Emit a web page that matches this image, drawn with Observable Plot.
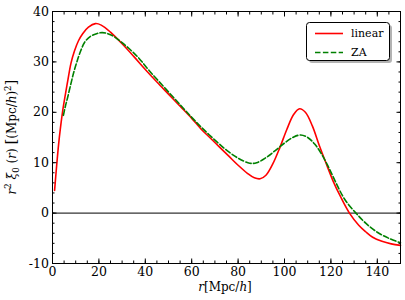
<!DOCTYPE html>
<html><head><meta charset="utf-8">
<script src="https://cdn.jsdelivr.net/npm/d3@7"></script>
<script src="https://cdn.jsdelivr.net/npm/@observablehq/plot@0.6"></script>
<style>body{margin:0;background:#fff}#chart{width:405px;height:300px}</style>
</head><body><div id="chart"></div>
<script>
// linear theory
const linearR = [0.9, 1.4, 1.9, 2.6, 3.4, 4.3, 5.5, 6.7, 8, 9.5, 11.2, 13, 15.5, 18.5, 21, 25, 30, 35, 40, 45, 50, 55, 60, 64, 68, 72, 76, 80, 84, 87, 89.5, 92, 95, 98, 101, 104, 106.5, 109, 112, 115, 118, 121, 124, 128, 132, 135, 138, 142, 146, 150];
const linearV = [4.5, 7.3, 10, 13.5, 16.8, 20, 23.4, 26.6, 29.8, 32.2, 34.2, 35.6, 36.9, 37.6, 37.3, 35.9, 33.6, 31.1, 28.5, 26.0, 23.6, 21.2, 18.8, 16.7, 14.9, 13.1, 11.3, 9.5, 7.9, 7.0, 6.8, 7.5, 9.8, 13.0, 16.6, 19.6, 20.7, 20.0, 17.3, 13.4, 9.8, 6.3, 3.4, 0, -2.4, -3.7, -4.8, -5.6, -6.1, -6.4];
// Zel'dovich approximation
const zaR = [4.7, 5.5, 6.5, 8, 9.2, 10.5, 12, 14, 16.5, 19, 21.5, 25, 30, 36.5, 42, 48.7, 55, 60, 64, 69.5, 75, 80, 85, 88, 92, 96, 100, 104, 107, 110, 113, 116, 119, 122, 126, 131, 135, 140, 145, 150];
const zaV = [19.4, 21.1, 22.9, 25.8, 28, 30, 32, 34, 35.1, 35.6, 35.8, 35.4, 33.8, 31.1, 28.1, 24.7, 21.5, 19, 17.1, 14.7, 12.5, 10.9, 9.9, 10.0, 11, 12.4, 13.9, 15.1, 15.5, 15.0, 13.7, 11.7, 9.1, 6.2, 2.7, -0.1, -2, -3.8, -5, -5.9];

const seriesNames = ["linear", "ZA"];
const seriesColors = ["#ff0000", "#008000"];
const seriesDash = [null, "5.5,2.4"];

const xTicks = [0, 20, 40, 60, 80, 100, 120, 140];
const xMinor = d3.range(0, 151, 5);
const yTicks = [-10, 0, 10, 20, 30, 40];
const yMinor = d3.range(-10, 41, 2);

const linear = linearR.map((r, i) => ({r, v: linearV[i]}));
const za = zaR.map((r, i) => ({r, v: zaV[i]}));

const blank = () => "";
const plot = Plot.plot({
  width: 405, height: 300,
  marginLeft: 52, marginRight: 5, marginTop: 11, marginBottom: 37,
  style: {fontFamily: "DejaVu Serif", fontSize: "12.5px", color: "#000", background: "#fff", overflow: "visible"},
  x: {domain: [0, 150]},
  y: {domain: [-10, 40]},
  marks: [
    Plot.ruleY([0], {stroke: "#000", strokeWidth: 1}),
    Plot.line(linear, {x: "r", y: "v", stroke: seriesColors[0], strokeWidth: 1.6, curve: "catmull-rom"}),
    Plot.line(za, {x: "r", y: "v", stroke: seriesColors[1], strokeWidth: 1.6, strokeDasharray: seriesDash[1], curve: "catmull-rom"}),
    Plot.frame({stroke: "#000", strokeWidth: 1}),
    Plot.axisX({anchor: "bottom", ticks: xTicks, tickSize: -4.5, tickPadding: 8, label: null, tickFormat: d => String(d)}),
    Plot.axisX({anchor: "bottom", ticks: xMinor, tickSize: -2.5, label: null, tickFormat: blank}),
    Plot.axisX({anchor: "top", ticks: xTicks, tickSize: -4.5, label: null, tickFormat: blank}),
    Plot.axisX({anchor: "top", ticks: xMinor, tickSize: -2.5, label: null, tickFormat: blank}),
    Plot.axisY({anchor: "left", ticks: yTicks, tickSize: -4.5, tickPadding: 8, label: null, tickFormat: d => String(d)}),
    Plot.axisY({anchor: "left", ticks: yMinor, tickSize: -2.5, label: null, tickFormat: blank}),
    Plot.axisY({anchor: "right", ticks: yTicks, tickSize: -4.5, label: null, tickFormat: blank}),
    Plot.axisY({anchor: "right", ticks: yMinor, tickSize: -2.5, label: null, tickFormat: blank})
  ]
});
document.getElementById("chart").appendChild(plot);

const svg = d3.select(plot);
const font = "DejaVu Serif";

// x label
const xl = svg.append("text").attr("x", 225).attr("y", 290.5)
  .attr("text-anchor", "middle").attr("font-family", font).attr("font-size", 12).attr("fill", "#000");
xl.append("tspan").attr("font-style", "italic").text("r");
xl.append("tspan").text("[Mpc/");
xl.append("tspan").attr("font-style", "italic").text("h");
xl.append("tspan").text("]");

// y label
const yl = svg.append("text").attr("transform", "translate(16,137) rotate(-90)")
  .attr("text-anchor", "middle").attr("font-family", font).attr("font-size", 12).attr("fill", "#000");
yl.append("tspan").attr("font-style", "italic").text("r");
yl.append("tspan").attr("font-size", 8.5).attr("dy", -5).text("2");
yl.append("tspan").attr("dy", 5).text(" ");
yl.append("tspan").attr("font-style", "italic").text("ξ");
yl.append("tspan").attr("font-size", 8.5).attr("dy", 3).text("0");
yl.append("tspan").attr("dy", -3).text(" (");
yl.append("tspan").attr("font-style", "italic").text("r");
yl.append("tspan").text(") ");
yl.append("tspan").attr("font-size", 15).text("[");
yl.append("tspan").text("(Mpc/");
yl.append("tspan").attr("font-style", "italic").text("h");
yl.append("tspan").text(")");
yl.append("tspan").attr("font-size", 8.5).attr("dy", -5).text("2");
yl.append("tspan").attr("dy", 5).attr("font-size", 15).text("]");

// legend
const lg = svg.append("g");
lg.append("rect").attr("x", 309).attr("y", 25).attr("width", 83).attr("height", 38).attr("rx", 3)
  .attr("fill", "#808080").attr("opacity", 0.6);
lg.append("rect").attr("x", 306.5).attr("y", 22.5).attr("width", 83).attr("height", 38).attr("rx", 3)
  .attr("fill", "#fff").attr("stroke", "#000").attr("stroke-width", 1);
seriesNames.forEach((name, i) => {
  const y = 33.5 + i * 19;
  lg.append("line").attr("x1", 315).attr("x2", 343).attr("y1", y).attr("y2", y)
    .attr("stroke", seriesColors[i]).attr("stroke-width", 1.6)
    .attr("stroke-dasharray", seriesDash[i]);
  lg.append("text").attr("x", 351).attr("y", y).attr("dy", "0.35em")
    .attr("text-anchor", "start")
    .attr("font-family", font).attr("font-size", 11).attr("fill", "#000").text(name);
});
</script>
</body></html>
